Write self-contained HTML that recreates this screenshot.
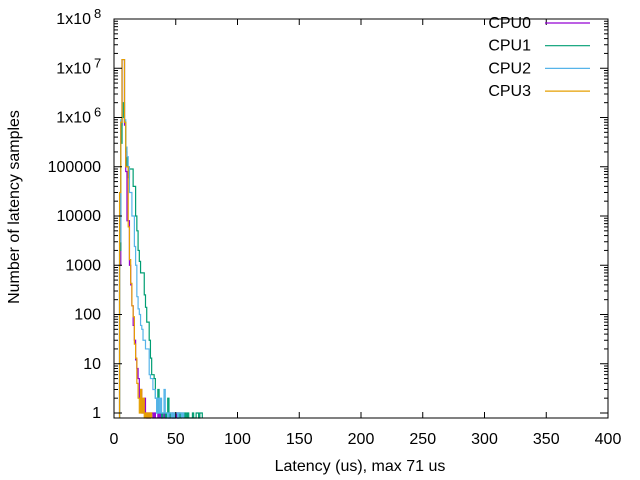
<!DOCTYPE html>
<html><head><meta charset="utf-8"><style>
body{margin:0;background:#fff;}
svg{display:block;font-family:"Liberation Sans",sans-serif;}
</style></head><body>
<svg id="c" width="640" height="480"></svg>
<script>
const categoriesStart = 5;
const cpu0 = [1000,700000,15000000,15000000,700000,80000,8000,8000,1000,400,150,60,30,12,8,5,2,3,1,1,2,1,0,1,0,1,1,0,1,0,0,1,0,1,0,0,1,0,0,0,1,0,0,1,0,0,1,0,1];
const cpu1 = [2000,300000,1000000,2000000,800000,200000,100000,60000,90000,90000,90000,40000,40000,10000,5000,2000,1200,700,700,700,250,140,70,70,30,13,6,6,5,2,1,3,1,1,0,1,1,0,1,2,0,1,1,0,0,1,1,0,1,0,1,1,0,1,0,1,0,0,0,1,0,0,1,1,0,1,1];
const cpu2 = [3000,900000,15000000,15000000,900000,250000,160000,100000,30000,30000,10000,10000,2400,1000,230,130,100,60,50,30,30,20,20,20,6,5,5,3,3,2,1,2,1,2,1,1,3,1,1,0,1,1,0,1,0,1,1,0,1,1,0,1];
const cpu3 = [30000,800000,15000000,15000000,800000,100000,100000,6000,1300,430,150,90,25,13,4,2,1,3,1,2,0,1,0,1,0,1];
const xTicks = [0,50,100,150,200,250,300,350,400];
const yTicks = [[1,"1"],[10,"10"],[100,"100"],[1000,"1000"],[10000,"10000"],[100000,"100000"],[1e6,"1x10","6"],[1e7,"1x10","7"],[1e8,"1x10","8"]];
const names = ["CPU0","CPU1","CPU2","CPU3"];
const colors = ["#9400d3","#009e73","#56b4e9","#e69f00"];
const series = [cpu0,cpu1,cpu2,cpu3];

const L=114,R=608,T=19,B=418;
const sx=v=>L+(v/400)*(R-L);
const yAt1=413, dec=49.25;
const sy=v=>v<=0?B:Math.min(B,yAt1-dec*Math.log10(v));
const svg=document.getElementById('c');
const NS="http://www.w3.org/2000/svg";
function mk(t,a,p){const e=document.createElementNS(NS,t);for(const k in a)e.setAttribute(k,a[k]);(p||svg).appendChild(e);return e;}

series.forEach((s,i)=>{
  let d="";
  s.forEach((v,j)=>{const x0=sx(categoriesStart+j-0.5),x1=sx(categoriesStart+j+0.5),y=sy(v);
    d+=(j==0?"M"+x0+","+B+"L":"L")+x0+","+y+"L"+x1+","+y;});
  d+="L"+sx(categoriesStart+s.length-0.5)+","+B;
  const p=mk('path',{d:d,fill:'none',stroke:colors[i],'stroke-width':1.2});
  
  
});

const f=mk('rect',{x:L,y:T,width:R-L,height:B-T,fill:'none',stroke:'#000','stroke-width':1});



xTicks.forEach(v=>{const x=sx(v);
  mk('line',{x1:x,y1:B,x2:x,y2:B-6,stroke:'#000'});
  mk('line',{x1:x,y1:T,x2:x,y2:T+6,stroke:'#000'});
  const t=mk('text',{x:x,y:B+26,'text-anchor':'middle','font-size':16});
  t.textContent=v;
  
  
});
yTicks.forEach(tk=>{const y=sy(tk[0]);
  mk('line',{x1:L,y1:y,x2:L+8,y2:y,stroke:'#000'});
  mk('line',{x1:R,y1:y,x2:R-8,y2:y,stroke:'#000'});
  if(tk[0]<1e8)for(let m=2;m<10;m++){const ym=sy(tk[0]*m);
    mk('line',{x1:L,y1:ym,x2:L+4,y2:ym,stroke:'#000'});
    mk('line',{x1:R,y1:ym,x2:R-4,y2:ym,stroke:'#000'});}
  const t=mk('text',{x:tk[2]?91:101,y:y+5,'text-anchor':'end','font-size':16});
  t.textContent=tk[1];
  
  
  if(tk[2]){const s=mk('text',{x:94,y:y-1,'font-size':13});s.textContent=tk[2];}
});
const xl=mk('text',{x:360,y:471,'text-anchor':'middle','font-size':16});
xl.textContent="Latency (us), max 71 us";


const yl=mk('text',{x:0,y:0,'text-anchor':'middle','font-size':16,transform:'translate(19,207) rotate(-90)'});
yl.textContent="Number of latency samples";


names.forEach((n,i)=>{const y=23+i*22.7;
  const g=mk('g',{});
  
  
  const t=mk('text',{x:531,y:y+5,'text-anchor':'end','font-size':16},g);t.textContent=n;
  mk('line',{x1:545,y1:y,x2:590,y2:y,stroke:colors[i],'stroke-width':1.2},g);
});
</script>
</body></html>
